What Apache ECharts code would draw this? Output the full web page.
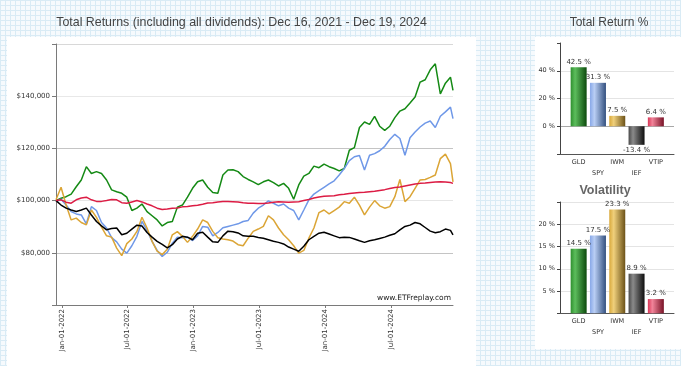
<!DOCTYPE html>
<html>
<head>
<meta charset="utf-8">
<script src="https://cdn.jsdelivr.net/npm/echarts@6.0.0/dist/echarts.min.js"></script>
<style>
html,body{margin:0;padding:0;width:681px;height:366px;overflow:hidden;}
body{
  background-color:#f6fafd;
  background-image:linear-gradient(#d9ebf5 1px, transparent 1px),linear-gradient(90deg,#d9ebf5 1px, transparent 1px);
  background-size:5px 5px;
  position:relative;
}
.panel{position:absolute;background:#fff;}
#chart{position:absolute;left:0;top:0;width:681px;height:366px;}
</style>
</head>
<body>
<div class="panel" style="left:7px;top:37px;width:469px;height:329px;"></div>
<div class="panel" style="left:535px;top:37px;width:146px;height:312px;"></div>
<div id="chart"></div>
<script>
// ---- data ----
const dates = ['2021-12-16','2021-12-30','2022-01-13','2022-01-27','2022-02-10','2022-02-24','2022-03-10','2022-03-24','2022-04-07','2022-04-21',
'2022-05-05','2022-05-19','2022-06-02','2022-06-16','2022-06-30','2022-07-14','2022-07-28','2022-08-11','2022-08-25','2022-09-08',
'2022-09-22','2022-10-06','2022-10-20','2022-11-03','2022-11-17','2022-12-01','2022-12-15','2022-12-29','2023-01-12','2023-01-26',
'2023-02-09','2023-02-23','2023-03-09','2023-03-23','2023-04-06','2023-04-20','2023-05-04','2023-05-18','2023-06-01','2023-06-15',
'2023-06-29','2023-07-13','2023-07-27','2023-08-10','2023-08-24','2023-09-07','2023-09-21','2023-10-05','2023-10-19','2023-11-02',
'2023-11-16','2023-11-30','2023-12-14','2023-12-28','2024-01-11','2024-01-25','2024-02-08','2024-02-22','2024-03-07','2024-03-21',
'2024-04-04','2024-04-18','2024-05-02','2024-05-16','2024-05-30','2024-06-13','2024-06-27','2024-07-11','2024-07-25','2024-08-08',
'2024-08-22','2024-09-05','2024-09-19','2024-10-03','2024-10-17','2024-10-31','2024-11-14','2024-11-28','2024-12-12','2024-12-19'];

const gld = [100000,100900,101500,102500,105300,107900,113000,110400,111100,110400,
107900,104100,103400,102800,101300,96200,97100,98700,95800,94200,
92600,90300,91600,92000,97500,98300,101300,104700,107200,107900,
105100,103100,102800,109800,111700,111800,111100,109200,108100,107200,
106100,107200,107900,106900,105600,106600,104700,100500,106000,109400,
110400,113200,112600,114000,113000,112300,111400,112300,119300,120300,
128000,130100,129200,132300,128500,126900,128500,131800,134300,135200,
137400,139700,145400,146300,150100,152400,140900,145000,147300,142200];

const spy = [99600,100500,98300,95800,94900,94500,91100,97700,96200,91600,
89500,85800,84200,81400,79900,82700,86300,92000,88600,84400,
80900,78600,80200,83700,86000,85800,86000,84700,86500,90100,
89800,86500,87800,89600,90100,90600,91100,92000,92400,95200,
97100,98300,99900,99000,98000,98700,97100,96200,92600,96400,
100300,102500,103800,105100,106400,107600,109800,112300,115300,116800,
117300,111700,117400,118000,119100,120800,123400,125400,123800,117400,
124100,126300,128200,129700,130500,128000,132300,134000,135800,131400];

const iwm = [100300,105100,98300,92600,93300,91600,90700,96400,93600,89800,
86500,86000,81800,78900,83500,85300,88200,93600,89500,84400,
80600,79300,81400,86900,88100,86300,84000,86300,89100,92600,
91600,88200,85800,85300,85000,84500,83100,82700,85600,88200,
89100,90100,94200,92600,89500,86900,85000,82700,79900,80900,
85600,89500,95400,96400,94900,96200,97500,99600,99000,101300,
98300,94500,97500,100000,98000,97100,97700,101500,108100,99600,
101500,104700,107900,108100,108900,109800,116100,117800,114200,107200];

const ief = [100000,98300,97100,96400,95800,96400,97100,94500,92000,90300,
88800,89300,89500,86900,87500,89100,90600,90300,87800,86000,
84400,83200,81900,83100,85300,86300,86000,85000,87500,87900,
86000,84200,84000,86500,88300,88100,87600,86500,86300,86300,
85900,85600,85000,84400,84000,83400,82200,81400,80600,82500,
85000,86300,87500,87900,87200,86500,85800,86000,85900,85300,
84600,84000,84600,85000,85500,86000,86700,87300,88800,90100,
90600,91600,91100,89700,88300,87700,88100,89100,88600,86900];

const vtip = [100000,100300,99400,99000,100300,101000,101300,100300,99700,99700,
100000,100400,100300,99200,99000,99500,100000,99500,98700,98000,
97100,96600,96800,97100,97200,97600,97700,98000,98200,98600,
99100,99200,99500,99700,99700,99600,99500,99200,99000,99000,
98900,98900,99100,99400,99600,99500,99400,99500,99600,100000,
100400,101000,101400,101700,101800,101900,102200,102400,102700,102900,
103100,103200,103400,103600,103900,104200,104600,105000,105200,105600,
106000,106400,106600,106700,106900,107100,107200,107100,106900,106600];

const names = ['GLD','SPY','IWM','IEF','VTIP'];
const totalReturn = [42.5, 31.3, 7.5, -13.4, 6.4];
const volatility = [14.5, 17.5, 23.3, 8.9, 3.2];

const yMoneyTicks = [80000,100000,120000,140000];
const xTickDates = ['2022-01-01','2022-07-01','2023-01-01','2023-07-01','2024-01-01','2024-07-01'];
const trTicks = [0,20,40];
const volTicks = [5,10,15,20];

// ---- styling ----
const lineColors = ['#158a15','#6f98e8','#dba536','#000000','#dc1c44'];
const barStops = [
  ['#2f8f2f','#5cbd5c','#0c4a0c'],
  ['#88a8e8','#b9cef4','#33507f'],
  ['#d9a93c','#f0d07c','#6c5218'],
  ['#4a4a4a','#8a8a8a','#0e0e0e'],
  ['#d83656','#f2849a','#781226']
];
function grad(i){
  const s = barStops[i];
  return {type:'linear',x:0,y:0,x2:1,y2:0,colorStops:[{offset:0,color:s[0]},{offset:0.28,color:s[1]},{offset:1,color:s[2]}]};
}
function toTs(s){const p=s.split('-').map(Number);return new Date(p[0],p[1]-1,p[2]).getTime();}
const MON=['Jan','Feb','Mar','Apr','May','Jun','Jul','Aug','Sep','Oct','Nov','Dec'];
const FONT='DejaVu Sans';
const startTs = toTs(dates[0]);
const endTs = toTs(dates[dates.length-1]);

const chart = echarts.init(document.getElementById('chart'), null, {renderer:'canvas'});

function lineSeries(name, arr, idx){
  return {name:name,type:'line',xAxisIndex:0,yAxisIndex:0,showSymbol:false,symbol:'none',
    lineStyle:{width:1.5,color:lineColors[idx]},itemStyle:{color:lineColors[idx]},
    data:dates.map((d,i)=>[d,arr[i]]),animation:false,z:2+idx};
}
function barSeries(vals, xi, yi){
  return {type:'bar',xAxisIndex:xi,yAxisIndex:yi,barWidth:16,animation:false,
    data:vals.map((v,i)=>({value:v,itemStyle:{color:grad(i)},
      label:{show:true,position:v<0?'bottom':'top',distance:2,fontSize:7,fontFamily:FONT,color:'#333',
        formatter:(p)=>p.value.toFixed(1)+' %'}}))};
}
function catAxis(gi){
  return {type:'category',gridIndex:gi,data:names,axisLine:{show:false},axisTick:{show:false},
    axisLabel:{interval:0,fontSize:6.5,fontFamily:FONT,color:'#333',margin:3,lineHeight:11,
      formatter:(v,i)=> (i%2? '\n'+v : v)}};
}
function frameX(gi){
  return {type:'value',gridIndex:gi,min:0,max:1,axisLine:{show:true,onZero:false,lineStyle:{color:'#555'}},
    axisTick:{show:false},axisLabel:{show:false},splitLine:{show:false}};
}

const option = {
  backgroundColor:'transparent',
  animation:false,
  grid:[
    {left:56,top:44,width:397,height:261},
    {left:560,top:43,width:114,height:111},
    {left:569,top:43,width:96.5,height:111},
    {left:560,top:202,width:114,height:111.3},
    {left:569,top:202,width:96.5,height:111.3}
  ],
  xAxis:[
    {type:'time',gridIndex:0,min:dates[0],max:dates[dates.length-1],
      axisLine:{onZero:false,lineStyle:{color:'#7a7a7a'}},
      axisTick:{show:false},axisLabel:{show:false},splitLine:{show:false}},
    frameX(1),
    catAxis(2),
    frameX(3),
    catAxis(4),
    {type:'value',gridIndex:0,min:startTs,max:endTs,position:'bottom',
      axisLine:{show:false,onZero:false},
      axisTick:{show:true,length:3,customValues:xTickDates.map(toTs),lineStyle:{color:'#7a7a7a'}},
      axisLabel:{show:true,customValues:xTickDates.map(toTs),rotate:90,fontSize:7,fontFamily:FONT,color:'#333',margin:4,
        formatter:(v)=>{const d=new Date(v);return MON[d.getMonth()]+'-'+String(d.getDate()).padStart(2,'0')+'-'+d.getFullYear();}},
      splitLine:{show:false}}
  ],
  yAxis:[
    {type:'value',gridIndex:0,min:60000,max:160000,interval:20000,
      axisLine:{show:true,lineStyle:{color:'#7a7a7a'}},
      axisTick:{show:true,length:4,lineStyle:{color:'#7a7a7a'}},
      axisLabel:{fontSize:7,fontFamily:FONT,color:'#333',margin:6,
        formatter:(v)=> yMoneyTicks.includes(v)? '$'+v.toLocaleString('en-US') : ''},
      splitLine:{show:true,lineStyle:{width:1,color:['#cfcfcf','#c4c4c4','#e6e6e6','#c4c4c4','#e8e8e8','#d8d8d8']}}},
    {type:'value',gridIndex:1,min:-20,max:60,interval:20,
      axisLine:{show:true,lineStyle:{color:'#444'}},
      axisTick:{show:true,length:3,lineStyle:{color:'#444'}},
      axisLabel:{fontSize:6.5,fontFamily:FONT,color:'#333',margin:5,formatter:(v)=> trTicks.includes(v)? v+' %':''},
      splitLine:{show:true,lineStyle:{color:['rgba(0,0,0,0)','#a8a8a8','#e4e4e4','#e4e4e4','rgba(0,0,0,0)']}}},
    {type:'value',gridIndex:2,min:-20,max:60,interval:20,show:false},
    {type:'value',gridIndex:3,min:0,max:25,interval:5,
      axisLine:{show:true,lineStyle:{color:'#444'}},
      axisTick:{show:true,length:3,lineStyle:{color:'#444'}},
      axisLabel:{fontSize:6.5,fontFamily:FONT,color:'#333',margin:5,formatter:(v)=> volTicks.includes(v)? v+' %':''},
      splitLine:{show:true,lineStyle:{color:['rgba(0,0,0,0)','#e4e4e4','#e4e4e4','#e4e4e4','#e4e4e4','#e4e4e4']}}},
    {type:'value',gridIndex:4,min:0,max:25,interval:5,show:false}
  ],
  graphic:[
    {type:'text',x:241.5,y:23,style:{text:'Total Returns (including all dividends): Dec 16, 2021 - Dec 19, 2024',
      font:'12.4px "Liberation Sans", Arial, sans-serif',fill:'#444',align:'center',verticalAlign:'middle'}},
    {type:'text',x:609,y:23,style:{text:'Total Return %',font:'12px "Liberation Sans", Arial, sans-serif',fill:'#444',align:'center',verticalAlign:'middle'}},
    {type:'text',x:605,y:191,style:{text:'Volatility',font:'bold 12.5px "Liberation Sans", Arial, sans-serif',fill:'#666',align:'center',verticalAlign:'middle'}},
    {type:'text',x:451,y:298,z:100,style:{text:'www.ETFreplay.com',font:'7.5px "DejaVu Sans", sans-serif',fill:'#222',align:'right',verticalAlign:'middle'}}
  ],
  series:[
    lineSeries('GLD',gld,0),
    lineSeries('SPY',spy,1),
    lineSeries('IWM',iwm,2),
    lineSeries('IEF',ief,3),
    lineSeries('VTIP',vtip,4),
    barSeries(totalReturn,2,2),
    barSeries(volatility,4,4)
  ]
};
chart.setOption(option);
</script>
</body>
</html>
